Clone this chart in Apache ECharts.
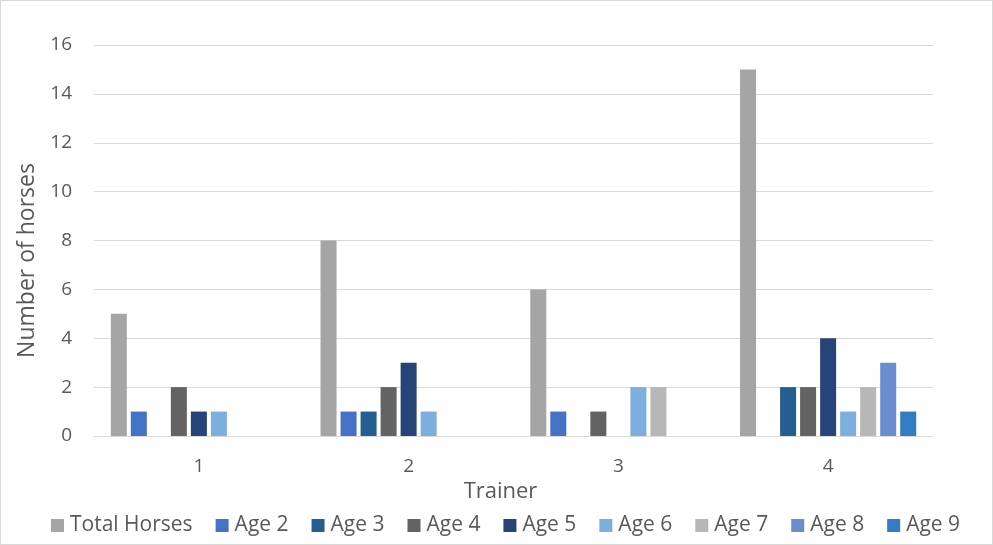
<!DOCTYPE html>
<html>
<head>
<meta charset="utf-8">
<script src="https://cdn.jsdelivr.net/npm/echarts@6/dist/echarts.min.js"></script>
<style>
  html, body { margin: 0; padding: 0; background: #fff; }
  #chart { width: 993px; height: 545px; box-sizing: border-box; border: 1px solid #d9d9d9; }
</style>
</head>
<body>
<div id="chart"></div>
<script>
// Horses per trainer, split by age
const trainers = ['1', '2', '3', '4'];
const seriesNames = ['Total Horses', 'Age 2', 'Age 3', 'Age 4', 'Age 5', 'Age 6', 'Age 7', 'Age 8', 'Age 9'];
const totalHorses = [5, 8, 6, 15];
const age2 = [1, 1, 1, 0];
const age3 = [0, 1, 0, 2];
const age4 = [2, 2, 1, 2];
const age5 = [1, 3, 0, 4];
const age6 = [1, 1, 2, 1];
const age7 = [0, 0, 2, 2];
const age8 = [0, 0, 0, 3];
const age9 = [0, 0, 0, 1];
const colors = ['#A5A5A5', '#4472C4', '#255E91', '#636363', '#264478', '#7CAFDD', '#B7B7B7', '#698ED0', '#327DC2'];

const values = [totalHorses, age2, age3, age4, age5, age6, age7, age8, age9];
const font = '"Open Sans", sans-serif';

const chart = echarts.init(document.getElementById('chart'));
chart.setOption({
  animation: false,
  color: colors,
  textStyle: { fontFamily: font },
  grid: { left: 93, right: 59, top: 44, bottom: 108, containLabel: false },
  legend: {
    top: 509,
    left: 45,
    itemWidth: 13,
    itemHeight: 13,
    itemGap: 23,
    icon: 'rect',
    textStyle: { fontSize: 21, color: '#595959', fontFamily: font, padding: [0, 0, 0, 1] },
    data: seriesNames
  },
  xAxis: {
    type: 'category',
    data: trainers,
    name: 'Trainer',
    nameLocation: 'middle',
    nameGap: 26,
    nameTextStyle: { fontSize: 22, color: '#595959', padding: [0, 26, 0, 0] },
    axisLine: { lineStyle: { color: '#d9d9d9', width: 1 } },
    axisTick: { show: false },
    axisLabel: { fontSize: 19, color: '#595959', margin: 21 }
  },
  yAxis: {
    type: 'value',
    min: 0,
    max: 16,
    interval: 2,
    name: 'Number of horses',
    nameLocation: 'middle',
    nameGap: 55,
    nameTextStyle: { fontSize: 23, color: '#595959', padding: [0, 40, 0, 0] },
    axisLine: { show: false },
    axisTick: { show: false },
    axisLabel: { fontSize: 19, color: '#595959', margin: 22 },
    splitLine: { lineStyle: { color: '#d9d9d9', width: 1 } }
  },
  series: seriesNames.map((name, i) => ({
    name,
    type: 'bar',
    data: values[i],
    barGap: '25%',
    barCategoryGap: '16%'
  }))
});
</script>
</body>
</html>
